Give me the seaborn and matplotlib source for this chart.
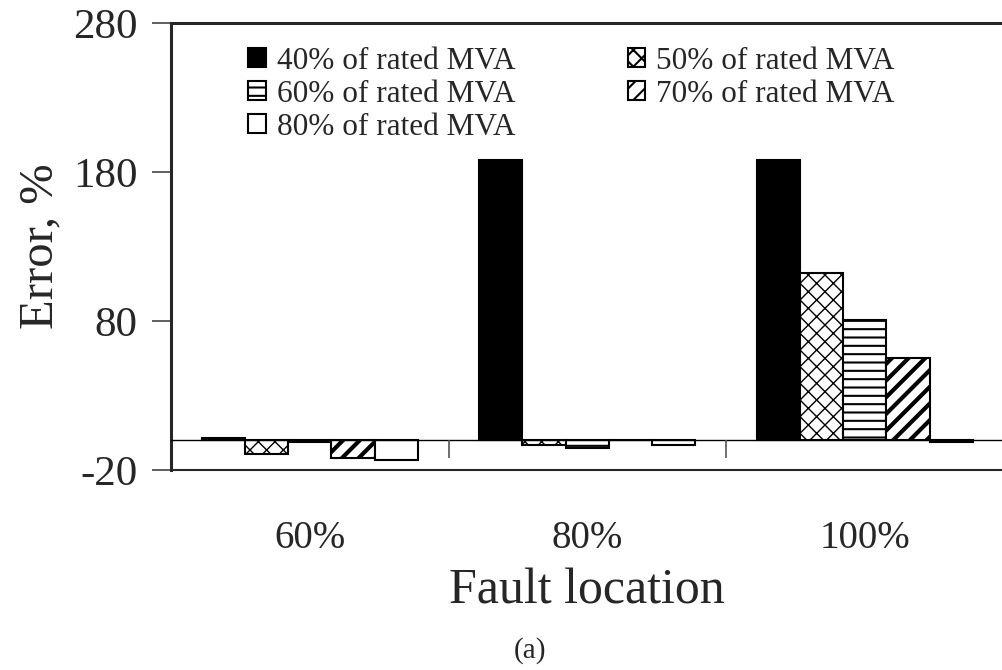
## Error vs fault location, grouped bars with hatches

import numpy as np
import pandas as pd
import matplotlib
matplotlib.use('Agg')
import matplotlib.pyplot as plt
import seaborn as sns

# data
locations = ['60%', '80%', '100%']
loads = ['40% of rated MVA', '50% of rated MVA', '60% of rated MVA',
         '70% of rated MVA', '80% of rated MVA']
err_40 = [1.5, 188, 188]
err_50 = [-9.5, -3, 112.5]
err_60 = [-1.0, -5.5, 80.5]
err_70 = [-12, 0, 55]
err_80 = [-13.5, -3, -1.0]
yticks = [-20, 80, 180, 280]

rows = []
for load, vals in zip(loads, [err_40, err_50, err_60, err_70, err_80]):
    for loc, v in zip(locations, vals):
        rows.append({'location': loc, 'load': load, 'error': v})
df = pd.DataFrame(rows)

sns.set_style('ticks')
plt.rcParams['font.family'] = ['Liberation Serif', 'DejaVu Serif']
plt.rcParams['hatch.linewidth'] = 1.5

fig = plt.figure(figsize=(10.03, 6.70), dpi=100)
ax = fig.add_axes([0.1705, 0.2985, 0.83, 0.667])

sns.barplot(data=df, x='location', y='error', hue='load', order=locations,
            hue_order=loads, palette=['black', 'white', 'white', 'white', 'white'],
            width=0.78, edgecolor='black', linewidth=1.5, legend=False, ax=ax)

hatches = [None, 'xx', '--', '//', None]
hatch_lw = [1.0, 1.0, 1.5, 3.0, 1.0]
for cont, h, hlw in zip(ax.containers, hatches, hatch_lw):
    for bar in cont:
        if h:
            bar.set_hatch(h)
        try:
            bar.set_hatch_linewidth(hlw)
        except AttributeError:
            pass

ax.set_ylim(-20, 280)
ax.set_xlim(-0.5, 2.5)
ax.set_yticks(yticks)
ax.set_yticklabels([str(t) for t in yticks], fontsize=31)
ax.tick_params(axis='y', length=14, width=1.2, color='#444444', pad=10)
ax.tick_params(axis='x', length=0, labelsize=28, pad=36)

# zero line with category separators, like the original
ax.axhline(0, color='black', lw=1.0, zorder=5)
sep_tr = matplotlib.transforms.blended_transform_factory(ax.transData, ax.transAxes)
zero_ax = 20 / 300
ax.vlines([0.5, 1.5], zero_ax - 0.04, zero_ax, color='#555555', lw=1.2,
          transform=sep_tr, zorder=5)

for side in ['left', 'top']:
    ax.spines[side].set_linewidth(2.2)
ax.spines['bottom'].set_linewidth(1.5)
ax.spines['right'].set_visible(False)

ax.set_ylabel('Error, %', fontsize=35, labelpad=8)
ax.set_xlabel('Fault location', fontsize=36, labelpad=8)

# legend: first column 40/60/80, second 50/70
order = [0, 2, 4, 1, 3]
handles = [ax.containers[i][0] for i in order]
labels = [loads[i] for i in order]
ax.legend(handles, labels, ncol=2, loc='upper left', bbox_to_anchor=(0.078, 0.975),
          frameon=False, fontsize=22.5, handlelength=0.55, handleheight=0.55,
          handletextpad=0.35, columnspacing=3.6, labelspacing=0.13, borderaxespad=0)

fig.text(530 / 1003, 1 - 651 / 670, '(a)', ha='center', va='center', fontsize=21)

fig.savefig('out.png', dpi=100)
